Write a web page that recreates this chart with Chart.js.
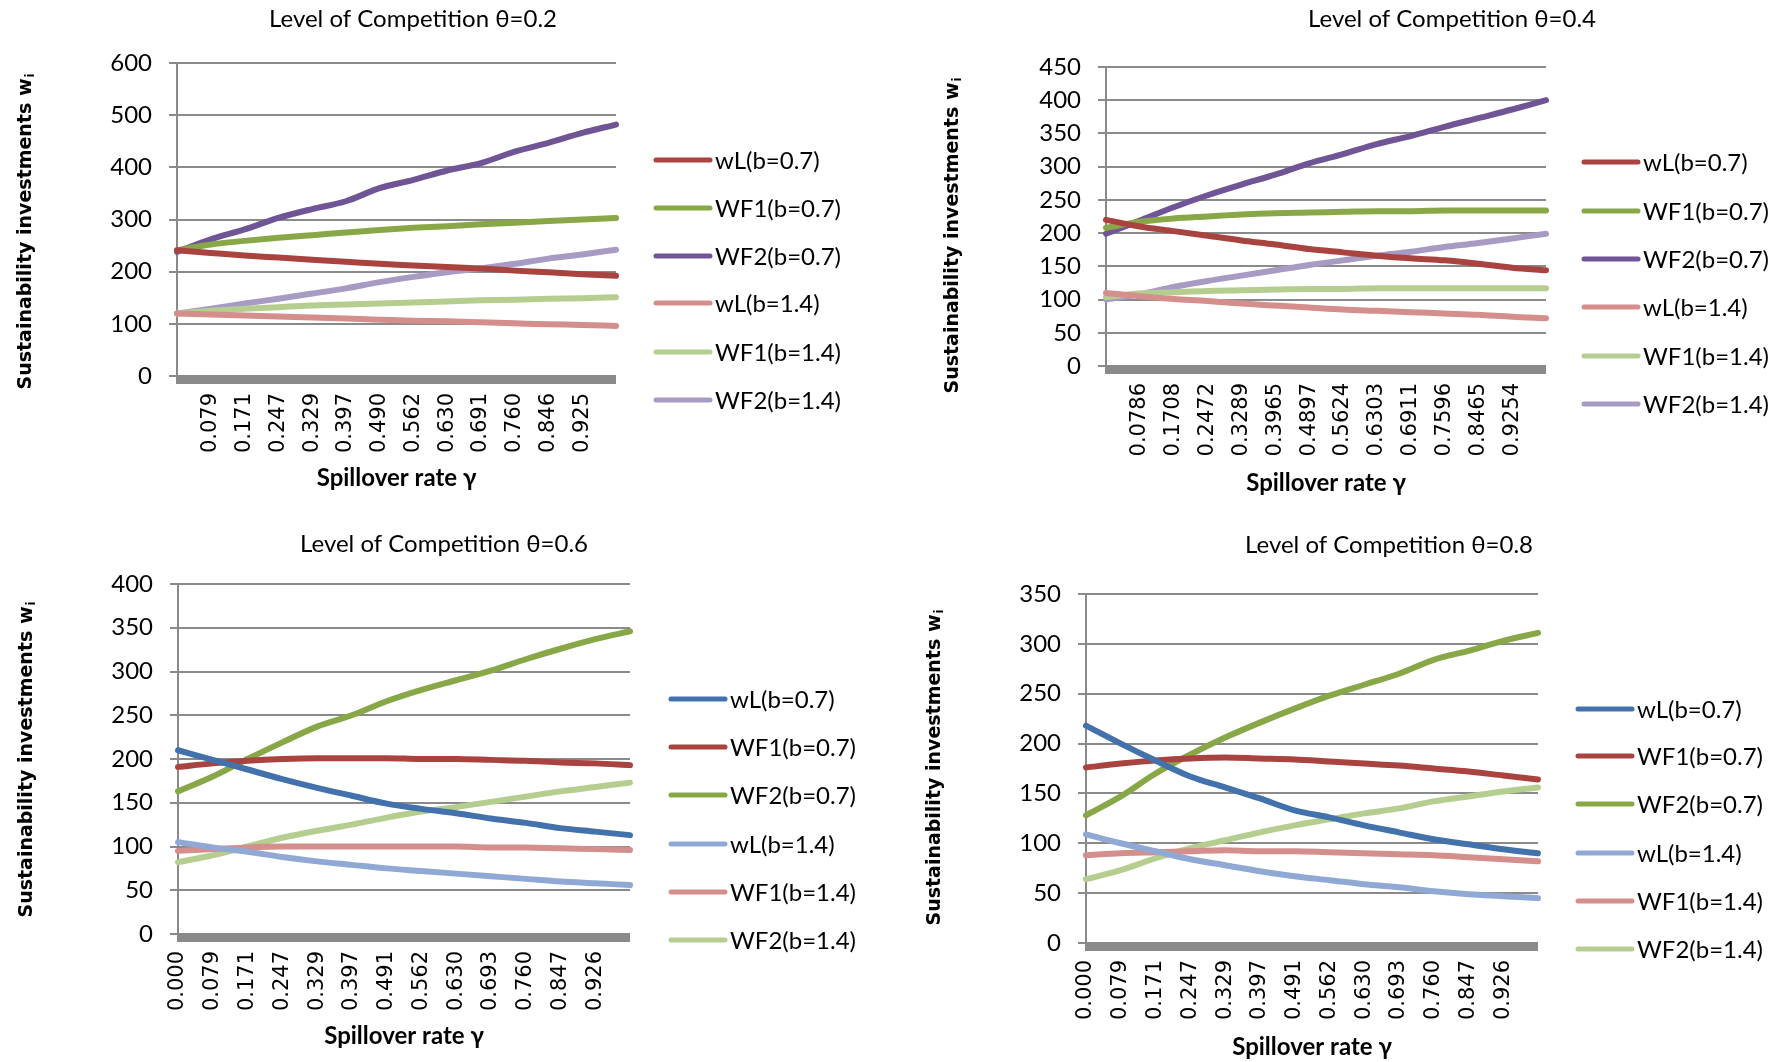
<!DOCTYPE html>
<html>
<head>
<meta charset="utf-8">
<script src="https://cdn.jsdelivr.net/npm/chart.js@4.4.1/dist/chart.umd.min.js"></script>
<style>
  html, body { margin: 0; padding: 0; background: #fff; }
  #wrap { position: relative; width: 1789px; height: 1062px; overflow: hidden; }
  canvas { position: absolute; left: 0; top: 0; }
</style>
</head>
<body>
<div id="wrap">
  <canvas id="c1" width="1789" height="1062"></canvas>
  <canvas id="c2" width="1789" height="1062"></canvas>
  <canvas id="c3" width="1789" height="1062"></canvas>
  <canvas id="c4" width="1789" height="1062"></canvas>
</div>
<script>
  // tick labels of the category axis (spillover rate)
  const labels02 = ["", "0.079", "0.171", "0.247", "0.329", "0.397", "0.490", "0.562", "0.630", "0.691", "0.760", "0.846", "0.925", ""];
  const labels04 = ["", "0.0786", "0.1708", "0.2472", "0.3289", "0.3965", "0.4897", "0.5624", "0.6303", "0.6911", "0.7596", "0.8465", "0.9254", ""];
  const labels06 = ["0.000", "0.079", "0.171", "0.247", "0.329", "0.397", "0.491", "0.562", "0.630", "0.693", "0.760", "0.847", "0.926", ""];
  const labels08 = ["0.000", "0.079", "0.171", "0.247", "0.329", "0.397", "0.491", "0.562", "0.630", "0.693", "0.760", "0.847", "0.926", ""];

  const seriesNames = ["wL(b=0.7)", "WF1(b=0.7)", "WF2(b=0.7)", "wL(b=1.4)", "WF1(b=1.4)", "WF2(b=1.4)"];

  // theta = 0.2
  const wL07_02  = [241, 236, 231, 227, 223, 219, 215, 212, 209, 206, 202, 199, 195, 192];
  const wF1_07_02 = [241, 252, 259, 265, 270, 275, 280, 284, 287, 291, 294, 297, 300, 303];
  const wF2_07_02 = [238, 262, 281, 303, 320, 335, 360, 376, 394, 408, 430, 447, 466, 482];
  const wL14_02  = [120, 118, 116, 114, 112, 110, 108, 106, 105, 103, 101, 99, 98, 96];
  const wF1_14_02 = [120, 125, 129, 132, 135, 137, 139, 141, 143, 145, 146, 148, 149, 151];
  const wF2_14_02 = [120, 129, 139, 148, 158, 168, 180, 190, 199, 206, 215, 225, 233, 242];

  // theta = 0.4
  const wL07_04  = [220, 210, 203, 196, 189, 183, 176, 171, 166, 162, 159, 154, 148, 144];
  const wF1_07_04 = [208, 217, 222, 225, 228, 230, 231, 232, 233, 233, 234, 234, 234, 234];
  const wF2_07_04 = [199, 219, 239, 257, 273, 288, 305, 319, 334, 346, 360, 373, 386, 400];
  const wL14_04  = [110, 105, 101, 98, 94, 91, 88, 85, 83, 81, 79, 77, 74, 72];
  const wF1_14_04 = [104, 109, 111, 113, 114, 115, 116, 116, 117, 117, 117, 117, 117, 117];
  const wF2_14_04 = [100, 108, 119, 128, 136, 144, 152, 159, 166, 172, 179, 185, 192, 199];

  // theta = 0.6
  const wL07_06  = [210, 199, 188, 177, 167, 158, 149, 143, 138, 132, 127, 121, 117, 113];
  const wF1_07_06 = [191, 195, 198, 200, 201, 201, 201, 200, 200, 199, 198, 196, 195, 193];
  const wF2_07_06 = [163, 180, 200, 219, 237, 250, 266, 279, 290, 301, 314, 326, 337, 346];
  const wL14_06  = [105, 99, 94, 88, 83, 79, 75, 72, 69, 66, 63, 60, 58, 56];
  const wF1_14_06 = [95, 97, 99, 100, 100, 100, 100, 100, 100, 99, 99, 98, 97, 96];
  const wF2_14_06 = [82, 90, 100, 110, 118, 125, 133, 140, 145, 151, 157, 163, 168, 173];

  // theta = 0.8
  const wL07_08  = [218, 200, 183, 167, 156, 145, 133, 126, 118, 111, 104, 99, 94, 90];
  const wF1_07_08 = [176, 180, 183, 185, 186, 185, 184, 182, 180, 178, 175, 172, 168, 164];
  const wF2_07_08 = [128, 147, 170, 189, 206, 221, 235, 248, 259, 270, 284, 293, 303, 311];
  const wL14_08  = [109, 100, 92, 84, 78, 72, 67, 63, 59, 56, 52, 49, 47, 45];
  const wF1_14_08 = [88, 90, 91, 92, 93, 92, 92, 91, 90, 89, 88, 86, 84, 82];
  const wF2_14_08 = [64, 73, 85, 95, 103, 111, 118, 124, 130, 135, 142, 147, 152, 156];

  const RED = "#a9433f", GREEN = "#88a747", PURPLE = "#6f5595", BLUE = "#4271ab";
  const LRED = "#d48e8c", LGREEN = "#b6cd90", LPURPLE = "#a79ac3", LBLUE = "#90a9d4";

  const W = 1789, H = 1062;
  const Y_BOX = 100, X_BOX = 120;
  const GRID = "#8a8a8a";

  // titles, axis titles, legend and the heavy category axis bar
  const decor = {
    id: "decor",
    afterDraw(chart) {
      const o = chart.options.plugins.decor;
      const ctx = chart.ctx;
      const a = chart.chartArea;
      ctx.save();

      ctx.fillStyle = "#8a8a8a";
      ctx.fillRect(a.left - 1, a.bottom - 1, a.right - a.left + 1, 9);

      ctx.fillStyle = "#000";
      ctx.textBaseline = "middle";
      ctx.textAlign = "center";
      ctx.font = "24px Lato";
      ctx.fillText(o.title, o.titleX, o.titleY);

      ctx.font = "bold 24px Lato";
      ctx.fillText("Spillover rate \u03b3", (a.left + a.right) / 2, o.xTitleY);

      // y title with subscript
      ctx.save();
      ctx.translate(o.yTitleX, o.yTitleY);
      ctx.rotate(-Math.PI / 2);
      ctx.font = "bold 19px 'DejaVu Sans'";
      const main = "Sustainability investments w";
      const mw = ctx.measureText(main).width;
      ctx.font = "bold 12px 'DejaVu Sans'";
      const sw = ctx.measureText("i").width;
      ctx.textAlign = "left";
      ctx.font = "bold 19px 'DejaVu Sans'";
      ctx.fillText(main, -(mw + sw) / 2, 0);
      ctx.font = "bold 12px 'DejaVu Sans'";
      ctx.fillText("i", -(mw + sw) / 2 + mw + 1, 5);
      ctx.restore();

      ctx.textAlign = "left";
      ctx.font = "24px Lato";
      chart.data.datasets.forEach((ds, i) => {
        const y = o.legendY[i];
        ctx.strokeStyle = ds.borderColor;
        ctx.lineWidth = 5;
        ctx.lineCap = "round";
        ctx.beginPath();
        ctx.moveTo(o.legendX, y);
        ctx.lineTo(o.legendX + 54, y);
        ctx.stroke();
        ctx.fillText(ds.label, o.legendX + 59, y + 1);
      });
      ctx.restore();
    }
  };

  function makeChart(id, labels, series, colors, box, yMax, step, deco) {
    new Chart(document.getElementById(id), {
      type: "line",
      data: {
        labels: labels,
        datasets: series.map((d, i) => ({
          label: seriesNames[i],
          data: d,
          borderColor: colors[i],
          backgroundColor: colors[i],
          borderWidth: 6,
          pointRadius: 0,
          fill: false,
          cubicInterpolationMode: "monotone",
          borderCapStyle: "round",
          borderJoinStyle: "round"
        }))
      },
      options: {
        responsive: false,
        animation: false,
        events: [],
        layout: {
          padding: { left: box.L - Y_BOX, top: box.T, right: W - box.R, bottom: H - box.B - X_BOX }
        },
        plugins: {
          legend: { display: false },
          tooltip: { enabled: false },
          decor: deco
        },
        scales: {
          x: {
            grid: { display: false, drawTicks: false },
            border: { display: false },
            ticks: {
              autoSkip: false, minRotation: 90, maxRotation: 90, padding: 17,
              color: "#000", font: { family: "DejaVu Sans", size: 21 }
            },
            afterFit: (s) => { s.height = X_BOX; }
          },
          y: {
            min: 0, max: yMax,
            ticks: { stepSize: step, padding: 17, color: "#000", font: { family: "Lato", size: 24 } },
            grid: { color: GRID, lineWidth: 2, tickLength: 8 },
            border: { color: GRID, width: 2 },
            afterFit: (s) => { s.width = Y_BOX; }
          }
        }
      },
      plugins: [decor]
    });
  }

  makeChart("c1", labels02,
    [wL07_02, wF1_07_02, wF2_07_02, wL14_02, wF1_14_02, wF2_14_02],
    [RED, GREEN, PURPLE, LRED, LGREEN, LPURPLE],
    { L: 177, R: 616, T: 63, B: 376 }, 600, 100,
    { title: "Level of Competition \u03b8=0.2", titleX: 413, titleY: 19, xTitleY: 478,
      yTitleX: 26, yTitleY: 232, legendX: 656, legendY: [160, 208, 256, 303, 352, 400] });

  makeChart("c2", labels04,
    [wL07_04, wF1_07_04, wF2_07_04, wL14_04, wF1_14_04, wF2_14_04],
    [RED, GREEN, PURPLE, LRED, LGREEN, LPURPLE],
    { L: 1106, R: 1546, T: 67, B: 366 }, 450, 50,
    { title: "Level of Competition \u03b8=0.4", titleX: 1452, titleY: 19, xTitleY: 483,
      yTitleX: 953, yTitleY: 236, legendX: 1584, legendY: [162, 211, 259, 307, 356, 404] });

  makeChart("c3", labels06,
    [wL07_06, wF1_07_06, wF2_07_06, wL14_06, wF1_14_06, wF2_14_06],
    [BLUE, RED, GREEN, LBLUE, LRED, LGREEN],
    { L: 178, R: 630, T: 584, B: 934 }, 400, 50,
    { title: "Level of Competition \u03b8=0.6", titleX: 444, titleY: 544, xTitleY: 1036,
      yTitleX: 27, yTitleY: 760, legendX: 671, legendY: [699, 747, 795, 844, 892, 940] });

  makeChart("c4", labels08,
    [wL07_08, wF1_07_08, wF2_07_08, wL14_08, wF1_14_08, wF2_14_08],
    [BLUE, RED, GREEN, LBLUE, LRED, LGREEN],
    { L: 1086, R: 1538, T: 594, B: 943 }, 350, 50,
    { title: "Level of Competition \u03b8=0.8", titleX: 1389, titleY: 545, xTitleY: 1047,
      yTitleX: 935, yTitleY: 768, legendX: 1578, legendY: [709, 756, 804, 853, 901, 949] });
</script>
</body>
</html>
